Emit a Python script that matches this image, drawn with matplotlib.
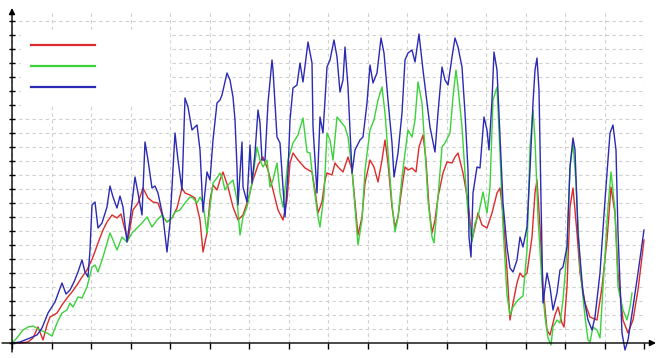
import numpy as np
import matplotlib
matplotlib.use("Agg")
import matplotlib.pyplot as plt

# three signals, x in samples, y in counts (no labels shown in the original)
red_x = [0, 8, 16, 21, 26, 31, 35, 38, 45, 50, 55, 60, 65, 70, 75, 81, 86, 91, 95, 100,
         105, 109, 113, 116, 121, 126, 131, 136, 141, 146, 151, 155, 160, 165, 170, 173, 178, 183, 188, 191,
         195, 198, 201, 205, 208, 211, 216, 221, 226, 231, 236, 241, 246, 251, 256, 261, 266, 271, 275, 278,
         281, 286, 293, 300, 303, 306, 310, 313, 315, 320, 323, 326, 331, 336, 340, 343, 346, 350, 353, 358,
         362, 366, 370, 373, 376, 380, 383, 386, 390, 393, 396, 400, 404, 407, 411, 414, 417, 420, 423, 426,
         431, 435, 440, 443, 446, 451, 456, 460, 463, 466, 470, 475, 480, 485, 488, 491, 495, 498, 501, 505,
         508, 511, 515, 520, 523, 525, 528, 531, 535, 538, 543, 546, 550, 552, 555, 558, 561, 565, 568, 573,
         578, 585, 590, 595, 599, 603, 606, 611, 616, 621, 626, 632]
red_y = [0, 0, 1, 5, 16, 3, 18, 26, 30, 38, 45, 51, 58, 66, 73, 86, 100, 113, 121, 128,
         125, 129, 113, 103, 133, 140, 155, 145, 141, 140, 126, 121, 125, 135, 155, 150, 148, 145, 123, 91,
         110, 143, 158, 153, 163, 171, 156, 136, 123, 128, 143, 163, 178, 186, 173, 153, 133, 123, 143, 180,
         190, 183, 175, 171, 153, 130, 141, 163, 170, 168, 180, 176, 171, 186, 173, 140, 108, 126, 160, 183,
         176, 161, 183, 203, 180, 136, 116, 126, 156, 176, 173, 175, 171, 196, 208, 183, 136, 110, 123, 146,
         170, 181, 180, 186, 190, 170, 141, 103, 116, 130, 118, 115, 130, 150, 155, 130, 73, 23, 40, 60,
         70, 66, 70, 106, 150, 163, 116, 56, 13, 8, 28, 36, 20, 16, 56, 136, 155, 110, 70, 40,
         26, 23, 56, 103, 156, 130, 70, 23, 10, 23, 53, 103]

green_x = [0, 4, 11, 16, 21, 28, 35, 40, 45, 50, 55, 58, 61, 66, 70, 75, 80, 83, 86, 91,
           98, 101, 105, 110, 115, 120, 125, 130, 135, 140, 145, 150, 155, 160, 163, 168, 173, 178, 181, 185,
           188, 191, 195, 198, 201, 205, 208, 210, 213, 216, 221, 225, 228, 231, 235, 240, 245, 248, 251, 255,
           258, 261, 265, 268, 271, 274, 276, 281, 286, 291, 295, 298, 301, 306, 308, 312, 315, 318, 321, 325,
           329, 333, 336, 340, 343, 346, 350, 353, 358, 362, 366, 370, 373, 376, 380, 383, 386, 390, 393, 396,
           400, 403, 406, 410, 413, 416, 420, 422, 426, 430, 433, 438, 441, 444, 446, 450, 453, 456, 460, 463,
           466, 471, 475, 478, 481, 485, 488, 491, 495, 498, 501, 506, 511, 515, 518, 521, 523, 526, 530, 533,
           536, 539, 541, 545, 548, 551, 555, 558, 561, 564, 568, 573, 576, 578, 581, 585, 588, 591, 596, 599,
           603, 606, 611, 615, 618, 620]
green_y = [0, 4, 13, 16, 17, 13, 10, 7, 20, 30, 33, 40, 36, 46, 45, 56, 76, 78, 71, 86,
           110, 103, 93, 106, 101, 110, 115, 120, 126, 116, 123, 128, 121, 125, 131, 133, 140, 146, 145, 140,
           146, 140, 110, 136, 160, 165, 170, 166, 153, 158, 163, 143, 108, 126, 136, 160, 196, 183, 176, 183,
           156, 163, 180, 150, 136, 163, 183, 200, 208, 225, 191, 190, 163, 126, 116, 148, 210, 203, 183, 226,
           221, 216, 206, 173, 136, 98, 123, 173, 213, 223, 243, 256, 230, 190, 140, 111, 126, 166, 190, 213,
           206, 223, 261, 240, 193, 143, 106, 100, 146, 196, 200, 210, 246, 273, 256, 216, 170, 130, 101, 120,
           126, 151, 130, 156, 243, 256, 190, 116, 48, 28, 36, 43, 47, 93, 196, 233, 203, 126, 60, 26,
           5, -2, 16, 23, 20, 43, 93, 176, 200, 160, 76, 26, 3, 1, 16, 13, 5, 56, 136, 171,
           133, 56, 33, 23, 36, 50]

blue_x = [0, 8, 18, 25, 30, 36, 43, 50, 54, 58, 62, 66, 70, 73, 76, 78, 80, 83, 86, 90,
          95, 98, 101, 105, 108, 111, 115, 118, 123, 126, 130, 133, 136, 140, 143, 146, 151, 155, 158, 163,
          166, 170, 173, 176, 180, 185, 188, 191, 195, 198, 201, 205, 208, 210, 215, 218, 221, 223, 225, 226,
          230, 231, 235, 238, 240, 243, 246, 248, 250, 253, 256, 260, 261, 265, 268, 270, 273, 276, 278, 281,
          285, 288, 291, 296, 300, 301, 305, 308, 311, 315, 318, 322, 325, 328, 331, 333, 336, 340, 343, 348,
          351, 355, 358, 361, 365, 369, 372, 376, 380, 382, 386, 390, 393, 396, 400, 403, 407, 411, 415, 418,
          420, 423, 426, 430, 433, 436, 440, 443, 446, 450, 453, 456, 457, 459, 461, 465, 468, 472, 475, 477,
          480, 482, 485, 488, 491, 495, 498, 501, 505, 508, 511, 515, 518, 521, 523, 525, 527, 529, 531, 535,
          538, 541, 545, 548, 551, 555, 558, 561, 563, 566, 571, 576, 580, 583, 588, 593, 598, 601, 604, 606,
          610, 613, 616, 621, 626, 632]
blue_y = [0, 1, 5, 8, 15, 30, 41, 60, 49, 53, 61, 71, 83, 71, 66, 93, 138, 141, 115, 120,
          136, 157, 146, 135, 147, 136, 101, 123, 166, 150, 128, 201, 183, 155, 157, 150, 126, 91, 120, 210,
          183, 153, 245, 236, 213, 218, 193, 131, 171, 163, 203, 240, 243, 248, 270, 263, 246, 223, 176, 138,
          201, 156, 141, 198, 160, 190, 233, 220, 183, 183, 240, 283, 273, 206, 200, 170, 126, 171, 223, 255,
          258, 280, 261, 301, 280, 216, 150, 226, 210, 276, 283, 303, 286, 251, 263, 296, 256, 170, 193, 203,
          206, 240, 278, 260, 270, 305, 290, 243, 200, 166, 190, 230, 283, 290, 293, 281, 309, 273, 240, 216,
          206, 191, 230, 276, 263, 258, 286, 305, 296, 276, 230, 173, 106, 86, 150, 176, 175, 226, 213, 193,
          243, 291, 273, 206, 140, 96, 75, 71, 83, 106, 96, 116, 173, 240, 273, 285, 253, 143, 40, 70,
          56, 33, 50, 73, 76, 96, 176, 205, 193, 110, 50, 23, 13, 26, 70, 143, 210, 218, 193, 110,
          10, -7, 3, 36, 70, 113]

x_max = 632
x_step = 39.5
y_max = 330
y_step = 14

fig = plt.figure(figsize=(6.62, 3.58), dpi=100)
ax = fig.add_axes([12 / 662, 15 / 358, 632 / 662, 330 / 358])
ax.set_xlim(0, x_max)
ax.set_ylim(0, y_max)

ax.set_xticks(np.arange(0, x_max + 1, x_step))
ax.set_yticks(np.arange(0, 323, y_step))
ax.set_xticklabels([])
ax.set_yticklabels([])
ax.tick_params(axis='x', direction='out', length=4, width=1, color='black')
ax.tick_params(axis='y', direction='inout', length=5, width=1, color='black')
ax.grid(True, color='#cfcfcf', linestyle=(0, (3, 3)), linewidth=0.8)
ax.set_axisbelow(True)
for s in ax.spines.values():
    s.set_visible(False)

# axis lines with arrow heads, running a bit past the plot area
arrow = dict(arrowstyle='-|>', color='black', lw=1, mutation_scale=9, shrinkA=0, shrinkB=0)
ax.annotate('', xy=(x_max + 12, 0), xytext=(-10, 0), arrowprops=arrow, annotation_clip=False)
ax.annotate('', xy=(0, y_max + 5), xytext=(0, -9), arrowprops=arrow, annotation_clip=False)

l1, = ax.plot(red_x, red_y, color='#dd2a2a', lw=1.0, clip_on=False)
l2, = ax.plot(green_x, green_y, color='#3ad23a', lw=1.0, clip_on=False)
l3, = ax.plot(blue_x, blue_y, color='#2a2ab4', lw=1.0, clip_on=False)

leg = ax.legend([l1, l2, l3], ['', '', ''], loc='upper left', bbox_to_anchor=(0.015, 0.95),
                frameon=True, fancybox=False, framealpha=1, edgecolor='white',
                handlelength=4.6, handletextpad=4.6, labelspacing=0.5, borderpad=0.7,
                borderaxespad=0, fontsize=10)
for h in leg.get_lines():
    h.set_linewidth(1.6)

fig.savefig('out.png', dpi=100)
